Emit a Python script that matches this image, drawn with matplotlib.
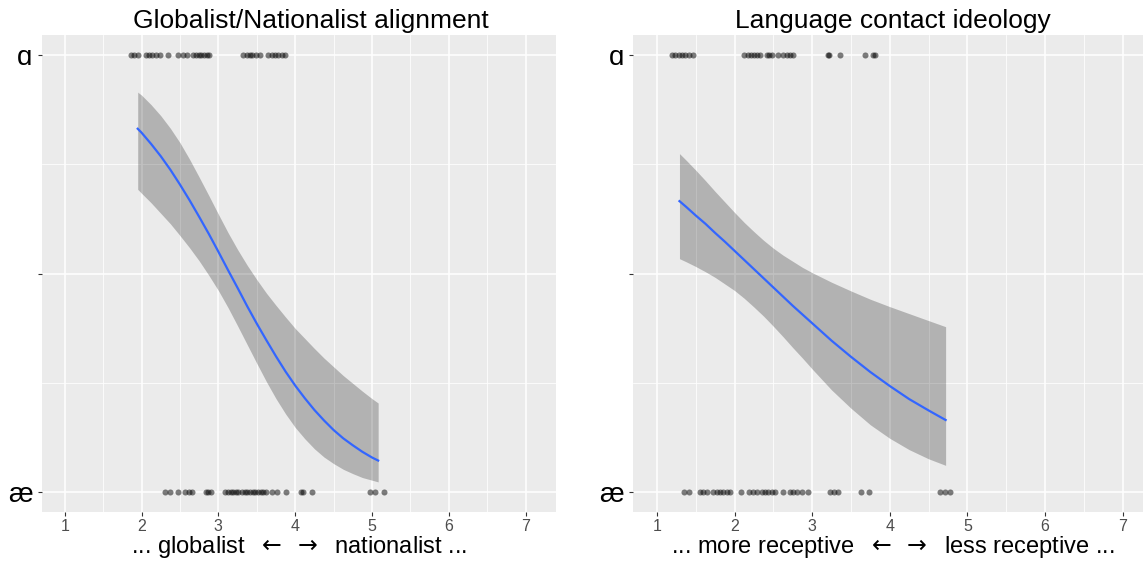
import matplotlib
matplotlib.use("Agg")
import matplotlib.pyplot as plt
from matplotlib.ticker import MultipleLocator

plt.rcParams['font.family'] = ['Liberation Sans', 'DejaVu Sans']

# --- Globalist/Nationalist alignment (left panel) ---
# jittered responses, top row = ɑ, bottom row = æ
glob_top = [1.863, 1.906, 1.949, 2.056, 2.098, 2.141, 2.184, 2.235, 2.342,
            2.47, 2.534, 2.59, 2.675, 2.714, 2.748, 2.778, 2.812, 2.846, 2.88,
            3.325, 3.376, 3.41, 3.444, 3.487, 3.538,
            3.645, 3.697, 3.739, 3.782, 3.825, 3.872]
glob_bottom = [2.303, 2.372, 2.47, 2.564, 2.624, 2.658, 2.838, 2.868, 2.902,
               3.09, 3.124, 3.158, 3.192, 3.226, 3.261, 3.303, 3.342, 3.376,
               3.415, 3.449, 3.483, 3.517, 3.551, 3.585,
               3.62, 3.692, 3.769, 3.88, 4.077, 4.103, 4.218,
               4.979, 5.038, 5.158]
# fitted curve and confidence band
glob_x = [1.95, 2.0, 2.125, 2.25, 2.375, 2.5, 2.625, 2.75, 2.875, 3.0, 3.125,
          3.25, 3.375, 3.5, 3.625, 3.75, 3.875, 4.0, 4.125, 4.25, 4.375, 4.5,
          4.625, 4.75, 4.875, 5.0, 5.08]
glob_fit = [0.832, 0.823, 0.797, 0.769, 0.738, 0.704, 0.668, 0.630, 0.591, 0.550,
            0.508, 0.467, 0.425, 0.385, 0.347, 0.310, 0.275, 0.243, 0.214, 0.187,
            0.163, 0.141, 0.122, 0.106, 0.091, 0.078, 0.071]
glob_hi = [0.916, 0.909, 0.887, 0.862, 0.833, 0.800, 0.762, 0.721, 0.679, 0.636,
           0.594, 0.555, 0.519, 0.486, 0.455, 0.427, 0.400, 0.374, 0.351, 0.328,
           0.306, 0.286, 0.266, 0.248, 0.230, 0.213, 0.203]
glob_lo = [0.693, 0.684, 0.662, 0.638, 0.614, 0.587, 0.559, 0.529, 0.496, 0.461,
           0.422, 0.380, 0.337, 0.294, 0.252, 0.213, 0.178, 0.147, 0.121, 0.098,
           0.079, 0.064, 0.051, 0.041, 0.032, 0.026, 0.022]

# --- Language contact ideology (right panel) ---
lang_top = [1.193, 1.236, 1.279, 1.321, 1.364, 1.407, 1.463,
            2.127, 2.179, 2.213, 2.247, 2.286, 2.329, 2.414, 2.449, 2.483,
            2.56, 2.629, 2.672, 2.715, 2.757,
            3.21, 3.222, 3.357, 3.687, 3.778, 3.808]
lang_bottom = [1.35, 1.41, 1.556, 1.599, 1.641, 1.727, 1.77, 1.813, 1.856,
               1.899, 1.941, 2.079, 2.19, 2.242, 2.293, 2.349, 2.392, 2.434,
               2.477, 2.52, 2.627, 2.713, 2.756, 2.807, 2.863, 2.949,
               3.227, 3.279, 3.334, 3.626, 3.733, 4.642, 4.706, 4.77]
lang_x = [1.29, 1.375, 1.5, 1.625, 1.75, 1.875, 2.0, 2.125, 2.25, 2.375, 2.5,
          2.625, 2.75, 2.875, 3.0, 3.25, 3.5, 3.75, 4.0, 4.25, 4.5, 4.72]
lang_fit = [0.666, 0.653, 0.633, 0.614, 0.593, 0.573, 0.552, 0.531, 0.510, 0.489,
            0.468, 0.447, 0.426, 0.406, 0.386, 0.346, 0.309, 0.274, 0.242, 0.212,
            0.186, 0.164]
lang_hi = [0.775, 0.760, 0.737, 0.713, 0.688, 0.664, 0.640, 0.617, 0.596, 0.576,
           0.558, 0.542, 0.528, 0.514, 0.502, 0.480, 0.460, 0.441, 0.424, 0.408,
           0.392, 0.378]
lang_lo = [0.534, 0.527, 0.516, 0.504, 0.491, 0.476, 0.461, 0.443, 0.423, 0.402,
           0.379, 0.355, 0.330, 0.306, 0.281, 0.233, 0.191, 0.153, 0.122, 0.096,
           0.075, 0.060]

x_ticks = [1, 2, 3, 4, 5, 6, 7]
y_ticks = [0, 0.5, 1]
y_labels = ['æ', '', 'ɑ']


def draw_panel(ax, top, bottom, xs, fit, lo, hi, title, xlabel, xlim, title_x):
    ax.set_facecolor('#EBEBEB')
    ax.fill_between(xs, lo, hi, color='black', alpha=0.24, lw=0, zorder=2)
    ax.plot(xs, fit, color='#3366FF', lw=1.6, zorder=3)
    ax.scatter(top, [1] * len(top), s=19, color='black', alpha=0.5, lw=0, zorder=4)
    ax.scatter(bottom, [0] * len(bottom), s=19, color='black', alpha=0.5, lw=0, zorder=4)

    ax.set_xlim(xlim)
    ax.set_ylim(-0.047, 1.047)
    ax.set_xticks(x_ticks)
    ax.xaxis.set_minor_locator(MultipleLocator(0.5))
    ax.set_yticks(y_ticks)
    ax.set_yticklabels(y_labels)
    ax.yaxis.set_minor_locator(MultipleLocator(0.25))
    ax.set_axisbelow(True)
    ax.grid(which='major', color='white', lw=1.1)
    ax.grid(which='minor', color='white', lw=0.55)
    for s in ax.spines.values():
        s.set_visible(False)
    ax.tick_params(which='minor', length=0)
    ax.tick_params(axis='x', which='major', length=2.75, width=0.8, color='#333333',
                   labelsize=11.5, labelcolor='#4D4D4D', pad=2.5)
    ax.tick_params(axis='y', which='major', length=2.75, width=0.8, color='#333333',
                   labelsize=20, labelcolor='black', pad=4)
    ax.set_title(title, fontsize=19, pad=5, x=title_x)
    ax.set_xlabel(xlabel, fontsize=17, labelpad=0)


fig = plt.figure(figsize=(11.43, 5.62), dpi=100)
ax1 = fig.add_axes([42 / 1143, 50 / 562, 514 / 1143, 477 / 562])
ax2 = fig.add_axes([633.3 / 1143, 50 / 562, 519.5 / 1143, 477 / 562])

draw_panel(ax1, glob_top, glob_bottom, glob_x, glob_fit, glob_lo, glob_hi,
           'Globalist/Nationalist alignment',
           r'... globalist  $\leftarrow\;\rightarrow$  nationalist ...', (0.704, 7.395), 0.523)
draw_panel(ax2, lang_top, lang_bottom, lang_x, lang_fit, lang_lo, lang_hi,
           'Language contact ideology',
           r'... more receptive  $\leftarrow\;\rightarrow$  less receptive ...', (0.695, 7.39), 0.5)

fig.savefig('out.png', dpi=100)
